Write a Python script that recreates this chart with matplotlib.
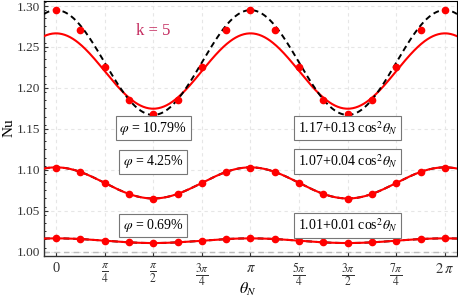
import numpy as np
import matplotlib.pyplot as plt

plt.rcParams["font.family"] = ["Liberation Serif", "DejaVu Serif"]
plt.rcParams["mathtext.fontset"] = "stix"

# sample points at multiples of pi/8
theta_pts = np.arange(17) * np.pi / 8
nu_phi_1079 = [1.295, 1.271, 1.225, 1.185, 1.168, 1.185, 1.225, 1.271, 1.295,
               1.271, 1.225, 1.185, 1.168, 1.185, 1.225, 1.271, 1.295]
nu_phi_425 = [1.1026, 1.0973, 1.0839, 1.0705, 1.0647, 1.0705, 1.0839, 1.0973, 1.1026,
              1.0973, 1.0839, 1.0705, 1.0647, 1.0705, 1.0839, 1.0973, 1.1026]
nu_phi_069 = [1.0163, 1.0155, 1.0127, 1.0115, 1.0106, 1.0115, 1.0127, 1.0155, 1.0163,
              1.0155, 1.0127, 1.0115, 1.0106, 1.0115, 1.0127, 1.0155, 1.0163]

# Nu = a + b cos^2(theta): fits (dashed) and model (solid) coefficients
fit_coef = [(1.167, 0.128), (1.065, 0.038), (1.0106, 0.0057)]
model_coef = [(1.1746, 0.092), (1.065, 0.038), (1.0106, 0.0057)]
point_sets = [nu_phi_1079, nu_phi_425, nu_phi_069]

phi_labels = [r"$\varphi$ = 10.79%", r"$\varphi$ = 4.25%", r"$\varphi$ = 0.69%"]
fit_labels = [r"1.17+0.13 cos$^2\theta_N$", r"1.07+0.04 cos$^2\theta_N$",
              r"1.01+0.01 cos$^2\theta_N$"]
label_y = [1.151, 1.110, 1.032]

xtick_vals = np.arange(9) * np.pi / 4
xtick_labels = ["0", r"$\frac{\pi}{4}$", r"$\frac{\pi}{2}$", r"$\frac{3\pi}{4}$", r"$\pi$",
                r"$\frac{5\pi}{4}$", r"$\frac{3\pi}{2}$", r"$\frac{7\pi}{4}$", r"$2\,\pi$"]
ytick_vals = [1.00, 1.05, 1.10, 1.15, 1.20, 1.25, 1.30]

fig = plt.figure(figsize=(4.58, 2.97), dpi=100)
ax = fig.add_axes([0.0961, 0.138, 0.9017, 0.8586])

x0, x1 = -0.194, 2.062 * np.pi
th = np.linspace(x0, x1, 600)

ax.axhline(1.0, color="#bbbbbb", lw=1.0, ls=(0, (4, 3)), zorder=1)

for i, ((a, b), (am, bm), pts) in enumerate(zip(fit_coef, model_coef, point_sets)):
    ax.plot(th, am + bm * np.cos(th) ** 2, color="red", lw=1.5, zorder=3)
    ax.plot(th, a + b * np.cos(th) ** 2, color="black", lw=1.4, ls=(0, (3, 2)),
            zorder=4 if i == 0 else 2)
    ax.plot(theta_pts, pts, "o", color="red", ms=4.5, zorder=5)

box = dict(boxstyle="square,pad=0.25", fc="white", ec="#777777", lw=0.8)
for txt, ftxt, y in zip(phi_labels, fit_labels, label_y):
    ax.text(np.pi / 2, y, txt, ha="center", va="center", fontsize=10, bbox=box, zorder=6)
    ax.text(3 * np.pi / 2, y, ftxt, ha="center", va="center", fontsize=10, bbox=box, zorder=6)

ax.text(np.pi / 2, 1.2695, "k = 5", ha="center", va="center", fontsize=12,
        color="#c42a5e")

ax.set_xlim(x0, x1)
ax.set_ylim(0.99475, 1.3061)
ax.set_xticks(xtick_vals)
ax.set_yticks(ytick_vals)
ax.set_yticklabels([f"{v:.2f}" for v in ytick_vals])
ax.set_yticks(np.arange(0.995, 1.306, 0.01), minor=True)
ax.tick_params(axis="both", direction="in", labelsize=9.5, length=3, width=0.8,
               colors="#333333")
ax.set_xticklabels(xtick_labels)
for lbl in ax.get_xticklabels():
    lbl.set_fontsize(10.5 if lbl.get_text() in ("0", r"$\pi$", r"$2\,\pi$") else 12)
ax.tick_params(axis="y", which="minor", direction="in", length=1.5, width=0.6)
ax.tick_params(axis="x", pad=4)
ax.tick_params(axis="y", pad=3)
ax.grid(True, color="#e6e6e6", lw=0.8, ls=(0, (3, 3)))
ax.set_axisbelow(True)

for s in ["left", "bottom"]:
    ax.spines[s].set_color("#333333")
    ax.spines[s].set_linewidth(1.0)
for s in ["top", "right"]:
    ax.spines[s].set_color("black")
    ax.spines[s].set_linewidth(0.8)

fig.text(9 / 458, 1 - 128 / 297, "Nu", rotation=90, ha="center", va="center",
         fontsize=11)
fig.text(248 / 458, 1 - 289 / 297, r"$\theta_N$", ha="center", va="center",
         fontsize=11.5)

fig.savefig("out.png", dpi=100)
